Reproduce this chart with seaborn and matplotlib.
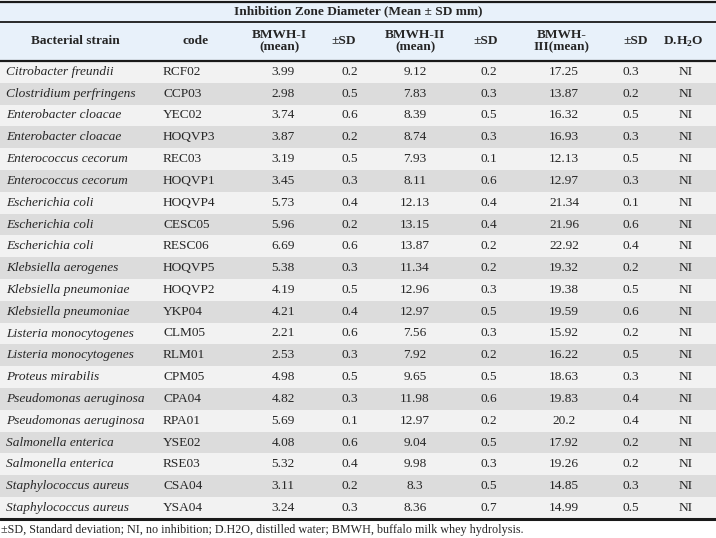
import matplotlib
matplotlib.use("Agg")
import matplotlib.pyplot as plt
import seaborn as sns
import pandas as pd

strains = ["Citrobacter freundii", "Clostridium perfringens", "Enterobacter cloacae",
           "Enterobacter cloacae", "Enterococcus cecorum", "Enterococcus cecorum",
           "Escherichia coli", "Escherichia coli", "Escherichia coli",
           "Klebsiella aerogenes", "Klebsiella pneumoniae", "Klebsiella pneumoniae",
           "Listeria monocytogenes", "Listeria monocytogenes", "Proteus mirabilis",
           "Pseudomonas aeruginosa", "Pseudomonas aeruginosa", "Salmonella enterica",
           "Salmonella enterica", "Staphylococcus aureus", "Staphylococcus aureus"]
codes = ["RCF02", "CCP03", "YEC02", "HOQVP3", "REC03", "HOQVP1", "HOQVP4", "CESC05",
         "RESC06", "HOQVP5", "HOQVP2", "YKP04", "CLM05", "RLM01", "CPM05", "CPA04",
         "RPA01", "YSE02", "RSE03", "CSA04", "YSA04"]
bmwh1 = ["3.99", "2.98", "3.74", "3.87", "3.19", "3.45", "5.73", "5.96", "6.69", "5.38",
         "4.19", "4.21", "2.21", "2.53", "4.98", "4.82", "5.69", "4.08", "5.32", "3.11", "3.24"]
sd1 = ["0.2", "0.5", "0.6", "0.2", "0.5", "0.3", "0.4", "0.2", "0.6", "0.3", "0.5",
       "0.4", "0.6", "0.3", "0.5", "0.3", "0.1", "0.6", "0.4", "0.2", "0.3"]
bmwh2 = ["9.12", "7.83", "8.39", "8.74", "7.93", "8.11", "12.13", "13.15", "13.87", "11.34",
         "12.96", "12.97", "7.56", "7.92", "9.65", "11.98", "12.97", "9.04", "9.98", "8.3", "8.36"]
sd2 = ["0.2", "0.3", "0.5", "0.3", "0.1", "0.6", "0.4", "0.4", "0.2", "0.2", "0.3",
       "0.5", "0.3", "0.2", "0.5", "0.6", "0.2", "0.5", "0.3", "0.5", "0.7"]
bmwh3 = ["17.25", "13.87", "16.32", "16.93", "12.13", "12.97", "21.34", "21.96", "22.92",
         "19.32", "19.38", "19.59", "15.92", "16.22", "18.63", "19.83", "20.2", "17.92",
         "19.26", "14.85", "14.99"]
sd3 = ["0.3", "0.2", "0.5", "0.3", "0.5", "0.3", "0.1", "0.6", "0.4", "0.2", "0.5",
       "0.6", "0.2", "0.5", "0.3", "0.4", "0.4", "0.2", "0.2", "0.3", "0.5"]
dh2o = ["NI"] * 21

headers = ["Bacterial strain", "code", "BMWH-I\n(mean)", "±SD", "BMWH-II\n(mean)", "±SD",
           "BMWH-\nIII(mean)", "±SD", r"D.H$_{\mathbf{2}}$O"]
title = "Inhibition Zone Diameter (Mean ± SD mm)"
footnote = "±SD, Standard deviation; NI, no inhibition; D.H2O, distilled water; BMWH, buffalo milk whey hydrolysis."

df = pd.DataFrame({"strain": strains, "code": codes, "b1": bmwh1, "s1": sd1,
                   "b2": bmwh2, "s2": sd2, "b3": bmwh3, "s3": sd3, "dh": dh2o})

sns.set_theme(style="white")
plt.rcParams["font.family"] = ["Liberation Serif", "DejaVu Serif"]
plt.rcParams["mathtext.fontset"] = "custom"
plt.rcParams["mathtext.rm"] = "Liberation Serif"
plt.rcParams["mathtext.bf"] = "Liberation Serif:bold"

fig = plt.figure(figsize=(7.16, 5.38), dpi=100)
ax = fig.add_axes([0, 0, 1, 1])
ax.set_xlim(0, 716)
ax.set_ylim(538, 0)
ax.axis("off")

# layout in pixel units
head_blue = "#e8f1fa"
light_row = "#f2f2f2"
dark_row = "#dcdcdc"
body_top = 61.0
row_h = 21.8

ax.axhspan(1, 61, color=head_blue, zorder=0)
for i in range(len(df)):
    top = body_top + i * row_h
    ax.axhspan(top, top + row_h, color=light_row if i % 2 == 0 else dark_row, lw=0, zorder=0)
body_bot = body_top + len(df) * row_h

ax.axhline(1.5, color="#1a1a1a", lw=1.6)
ax.axhline(21.5, color="#1a1a1a", lw=1.3)
ax.axhline(61.0, color="#1a1a1a", lw=1.6)
ax.axhline(body_bot, color="#1a1a1a", lw=2.2)

fs = 9.6
ax.text(358, 11.5, title, ha="center", va="center", fontsize=fs, fontweight="bold")

head_x = [75, 196, 279, 344, 415, 486, 562, 636, 683]
for x, h in zip(head_x, headers):
    ax.text(x, 41.5, h, ha="center", va="center", fontsize=fs, fontweight="bold",
            linespacing=1.05)

val_x = [283, 350, 415, 489, 564, 631, 686]
cols = ["b1", "s1", "b2", "s2", "b3", "s3", "dh"]
for i, row in df.iterrows():
    yc = body_top + (i + 0.5) * row_h
    ax.text(6, yc, row["strain"], ha="left", va="center", fontsize=fs, style="italic")
    ax.text(163, yc, row["code"], ha="left", va="center", fontsize=fs)
    for x, c in zip(val_x, cols):
        ax.text(x, yc, row[c], ha="center", va="center", fontsize=fs)

ax.text(1, 530.5, footnote, ha="left", va="center", fontsize=8.7)

fig.savefig("out.png", dpi=100)
